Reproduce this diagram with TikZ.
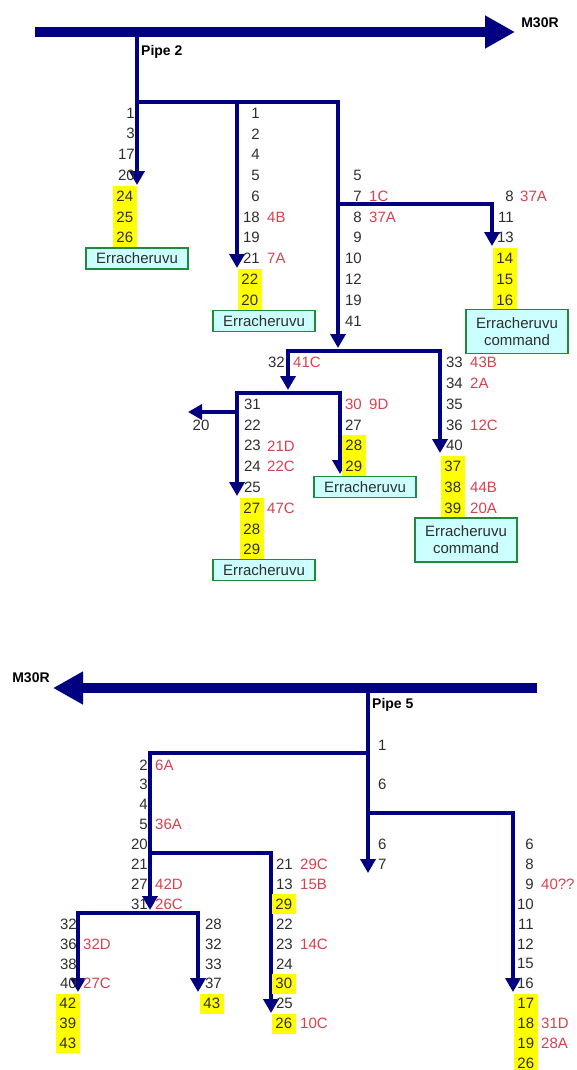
\documentclass[tikz,border=0pt]{standalone}
\usepackage{fontspec}
\setmainfont{Liberation Sans}
\usetikzlibrary{arrows.meta}
\definecolor{pn}{HTML}{000080}
\definecolor{cr}{HTML}{D8414F}
\definecolor{tx}{HTML}{2E2E2E}
\definecolor{bf}{HTML}{CCFFFF}
\definecolor{bb}{HTML}{1E8B3C}
\definecolor{hy}{HTML}{FFFF00}
\newcommand{\rowt}[1]{113+20.8*(#1)}
\newcommand{\rowb}[1]{745+19.9*(#1)}

\begin{document}
\begin{tikzpicture}[x=1pt,y=-1pt,font=\fontsize{15}{17}\selectfont,
  pipe/.style={draw=pn,line width=4.5pt},
  tip/.style={-{Triangle[length=14pt,width=15pt]}},
  tips/.style={{Triangle[length=14pt,width=15pt]}-{Triangle[length=14pt,width=15pt]}},
  main/.style={draw=pn,line width=10pt,-{Triangle[length=30pt,width=31pt]}},
  num/.style={text=tx,inner sep=0pt},
  code/.style={text=cr,inner sep=0pt,anchor=west},
  hl/.style={fill=hy,text=tx,inner sep=0pt,anchor=east,minimum width=24pt,minimum height=20.8pt},
  hlb/.style={hl,minimum height=19.9pt},
  tank/.style={draw=bb,line width=1.6pt,fill=bf,text=tx,align=center,minimum width=102pt,minimum height=21pt,inner sep=1pt},
  ttl/.style={font=\fontsize{14}{16}\selectfont\bfseries,inner sep=0pt}]
\useasboundingbox (0,0) rectangle (577,1070);

% ---- pipe 2 ----
\coordinate (m1) at (35,32); \coordinate (m2) at (515,32);
\node[ttl] (mr1) at (540,23) {M30R};
\node[ttl,anchor=west] (p2) at (141,52) {Pipe 2};
\coordinate (s2) at (137,32); \coordinate (t1) at (137,185);
\coordinate (j1) at (137,102); \coordinate (j2) at (237,102); \coordinate (j3) at (338,102);
\coordinate (t2) at (237,268); \coordinate (t3) at (338,348);
\coordinate (j4) at (338,204); \coordinate (j5) at (492,204); \coordinate (t4) at (492,246);
\coordinate (j6) at (288,351); \coordinate (j7) at (440,351);
\coordinate (t5) at (288,390); \coordinate (t6) at (440,453);
\coordinate (j8) at (237,393); \coordinate (j9) at (340,393);
\coordinate (t7) at (237,496); \coordinate (t8) at (340,474);
\coordinate (j10) at (237,412); \coordinate (t9) at (188,412);
\draw[main] (m1) -- (m2);
\draw[pipe,tip] (s2) -- (t1);
\draw[pipe,tip] (j1) -- (j3) -- (t3);
\draw[pipe,tip] (j2) -- (t2);
\draw[pipe,tip] (j4) -- (j5) -- (t4);
\draw[pipe,tips] (t5) -- (j6) -- (j7) -- (t6);
\draw[pipe,tips] (t7) -- (j8) -- (j9) -- (t8);
\draw[pipe,tip] (j10) -- (t9);

\foreach \k/\t in {0/1,1/3,2/17,3/20} \node[num,anchor=east] (a\k) at (135,{\rowt{\k}}) {\t};
\foreach \k/\t in {4/24,5/25,6/26} \node[hl] (a\k) at (137,{\rowt{\k}}) {\t};
\node[tank] (ea) at (137,{\rowt{7}}) {Erracheruvu};

\foreach \k/\t in {0/1,1/2,2/4,3/5,4/6,5/18,6/19,7/21} \node[num,anchor=east] (b\k) at (260,{\rowt{\k}}) {\t};
\foreach \k/\t in {5/4B,7/7A} \node[code] (bc\k) at (267,{\rowt{\k}}) {\t};
\foreach \k/\t in {8/22,9/20} \node[hl] (b\k) at (262,{\rowt{\k}}) {\t};
\node[tank] (eb) at (264,{\rowt{10}}) {Erracheruvu};

\foreach \k/\t in {3/5,4/7,5/8,6/9,7/10,8/12,9/19,10/41} \node[num,anchor=east] (c\k) at (362,{\rowt{\k}}) {\t};
\foreach \k/\t in {4/1C,5/37A} \node[code] (cc\k) at (369,{\rowt{\k}}) {\t};

\foreach \k/\t in {4/8,5/11,6/13} \node[num,anchor=east] (d\k) at (514,{\rowt{\k}}) {\t};
\node[code] (dc4) at (520,{\rowt{4}}) {37A};
\foreach \k/\t in {7/14,8/15,9/16} \node[hl] (d\k) at (517,{\rowt{\k}}) {\t};
\node[tank,minimum height=44pt] (ed) at (517,331.5) {Erracheruvu\\command};

\node[num,anchor=east] (e12) at (285,{\rowt{12}}) {32};
\node[code] (ec12) at (293,{\rowt{12}}) {41C};

\foreach \k/\t in {12/33,13/34,14/35,15/36,16/40} \node[num,anchor=east] (f\k) at (463,{\rowt{\k}}) {\t};
\foreach \k/\t in {12/43B,13/2A,15/12C,18/44B,19/20A} \node[code] (fc\k) at (470,{\rowt{\k}}) {\t};
\foreach \k/\t in {17/37,18/38,19/39} \node[hl] (f\k) at (465,{\rowt{\k}}) {\t};
\node[tank,minimum height=44pt] (ef) at (466,540) {Erracheruvu\\command};

\foreach \k/\t in {14/31,15/22,16/23,17/24,18/25} \node[num,anchor=east] (g\k) at (261,{\rowt{\k}}) {\t};
\foreach \k/\t in {16/21D,17/22C,19/47C} \node[code] (gc\k) at (267,{\rowt{\k}}) {\t};
\foreach \k/\t in {19/27,20/28,21/29} \node[hl] (g\k) at (264,{\rowt{\k}}) {\t};
\node[tank] (eg) at (264,570) {Erracheruvu};
\node[num] (g0) at (201,425) {20};

\node[num,anchor=east,text=cr] (h14) at (362,{\rowt{14}}) {30};
\node[code] (hc14) at (369,{\rowt{14}}) {9D};
\node[num,anchor=east] (h15) at (362,{\rowt{15}}) {27};
\foreach \k/\t in {16/28,17/29} \node[hl] (h\k) at (366,{\rowt{\k}}) {\t};
\node[tank] (eh) at (365,487) {Erracheruvu};

% ---- pipe 5 ----
\coordinate (m3) at (537,688); \coordinate (m4) at (53,688);
\node[ttl] (mr2) at (31,678) {M30R};
\node[ttl,anchor=west] (p5) at (372,705) {Pipe 5};
\coordinate (s5) at (368,688); \coordinate (t10) at (368,873);
\coordinate (j11) at (368,753); \coordinate (j12) at (150,753); \coordinate (t11) at (150,910);
\coordinate (j13) at (368,813); \coordinate (j14) at (513,813); \coordinate (t12) at (513,992);
\coordinate (j15) at (150,853); \coordinate (j16) at (271,853); \coordinate (t13) at (271,1013);
\coordinate (j17) at (78,913); \coordinate (j18) at (198,913);
\coordinate (t14) at (78,992); \coordinate (t15) at (198,992);
\draw[main] (m3) -- (m4);
\draw[pipe,tip] (s5) -- (t10);
\draw[pipe,tip] (j11) -- (j12) -- (t11);
\draw[pipe,tip] (j13) -- (j14) -- (t12);
\draw[pipe,tip] (j15) -- (j16) -- (t13);
\draw[pipe,tips] (t14) -- (j17) -- (j18) -- (t15);

\foreach \k/\t in {0/1,2/6,5/6,6/7} \node[num,anchor=west] (k\k) at (378,{\rowb{\k}}) {\t};

\foreach \k/\t in {1/2,2/3,3/4,4/5,5/20,6/21,7/27,8/31} \node[num,anchor=east] (l\k) at (148,{\rowb{\k}}) {\t};
\foreach \k/\t in {1/6A,4/36A,7/42D,8/26C} \node[code] (lc\k) at (155,{\rowb{\k}}) {\t};

\foreach \k/\t in {6/21,7/13,9/22,10/23,11/24,13/25} \node[num,anchor=east] (n\k) at (293,{\rowb{\k}}) {\t};
\foreach \k/\t in {8/29,12/30,14/26} \node[hlb] (n\k) at (296,{\rowb{\k}}) {\t};
\foreach \k/\t in {6/29C,7/15B,10/14C,14/10C} \node[code] (nc\k) at (300,{\rowb{\k}}) {\t};

\foreach \k/\t in {9/32,10/36,11/38,12/40} \node[num,anchor=east] (o\k) at (77,{\rowb{\k}}) {\t};
\foreach \k/\t in {13/42,14/39,15/43} \node[hlb] (o\k) at (80,{\rowb{\k}}) {\t};
\foreach \k/\t in {10/32D,12/27C} \node[code] (oc\k) at (83,{\rowb{\k}}) {\t};

\foreach \k/\t in {9/28,10/32,11/33,12/37} \node[num,anchor=east] (q\k) at (222,{\rowb{\k}}) {\t};
\node[hlb] (q13) at (224,{\rowb{13}}) {43};

\foreach \k/\t in {5/6,6/8,7/9,8/10,9/11,10/12,11/15,12/16} \node[num,anchor=east] (r\k) at (534,{\rowb{\k}}) {\t};
\foreach \k/\t in {13/17,14/18,15/19,16/26} \node[hlb] (r\k) at (538,{\rowb{\k}}) {\t};
\foreach \k/\t in {7/40??,14/31D,15/28A} \node[code] (rc\k) at (541,{\rowb{\k}}) {\t};
\end{tikzpicture}
\end{document}
